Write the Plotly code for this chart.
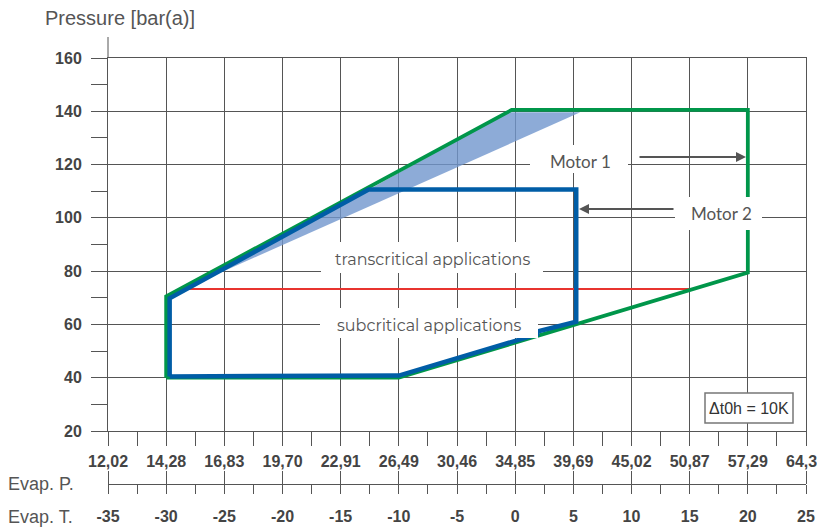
import plotly.graph_objects as go

# ---------------- data ----------------
evap_t = [-35, -30, -25, -20, -15, -10, -5, 0, 5, 10, 15, 20, 25]
evap_p = ["12,02", "14,28", "16,83", "19,70", "22,91", "26,49", "30,46",
          "34,85", "39,69", "45,02", "50,87", "57,29", "64,34"]
y_ticks = [20, 40, 60, 80, 100, 120, 140, 160]

motor1_t = [-30, -30, -0.3, 20, 20, -10, -30]
motor1_p = [40, 70.5, 140.5, 140.5, 79.5, 40, 40]

motor2_t = [-29.7, -29.7, -12.6, 5.25, 5.25, 1.9, 1.9, -10, -29.7]
motor2_p = [40.5, 69.8, 110.6, 110.6, 61.0, 57.3, 56.3, 40.8, 40.5]

band_t = [-25.4, -0.7, 5.6, -25.4]
band_p = [79.3, 139.6, 139.6, 79.3]

crit_t = [-28.6, 15.3]
crit_p = [73.3, 73.3]

# ---------------- style ----------------
# The page body has an 8px margin, so the figure is 8px smaller and the
# plot-area margins are measured from the page origin minus that offset.
PAGE_OFF = 8
W, H = 825 - PAGE_OFF, 527 - PAGE_OFF
PLOT_L, PLOT_R, PLOT_T, PLOT_B = 108, 806, 58, 484   # page pixels
L, T = PLOT_L - PAGE_OFF, PLOT_T - PAGE_OFF
R = W - (PLOT_R - PAGE_OFF)
B = H - (PLOT_B - PAGE_OFF)
PW, PH = PLOT_R - PLOT_L, PLOT_B - PLOT_T
GRID = "#555555"
TXT = "#555555"
TICKTXT = "#444444"
GREEN = "#00964a"
BLUE = "#005da6"
RED = "#e8342f"
FILL = "rgba(112,150,205,0.8)"


def px(xpix):
    return (xpix - PLOT_L) / PW


def py(ypix):
    return (PLOT_B - ypix) / PH


fig = go.Figure()

fig.add_trace(go.Scatter(x=band_t, y=band_p, mode="lines", fill="toself",
                         fillcolor=FILL, line=dict(width=0), hoverinfo="skip"))
fig.add_trace(go.Scatter(x=crit_t, y=crit_p, mode="lines",
                         line=dict(color=RED, width=2)))
fig.add_trace(go.Scatter(x=motor1_t, y=motor1_p, mode="lines",
                         line=dict(color=GREEN, width=3.8)))
fig.add_trace(go.Scatter(x=motor2_t, y=motor2_p, mode="lines",
                         line=dict(color=BLUE, width=4.5)))
# anchor traces for the secondary scales
fig.add_trace(go.Scatter(x=[None], y=[None], xaxis="x2", yaxis="y"))
fig.add_trace(go.Scatter(x=[None], y=[None], xaxis="x3", yaxis="y"))

tickfont = dict(family="Liberation Sans, Arial", size=16, color=TICKTXT, weight="bold")

fig.update_layout(
    width=W, height=H, margin=dict(l=L, r=R, t=T, b=B, autoexpand=False),
    paper_bgcolor="white", plot_bgcolor="white", showlegend=False,
    xaxis=dict(range=[-35, 25], domain=[0, 1], anchor="y", automargin=False,
               tickmode="array", tickvals=evap_t, ticktext=evap_p,
               ticks="outside", ticklen=14, tickwidth=1, tickcolor=GRID,
               showgrid=True, gridcolor=GRID, gridwidth=1,
               showline=True, linecolor=GRID, linewidth=1, mirror=True,
               zeroline=False, tickfont=tickfont, ticklabelstandoff=2,
               ticklabeloverflow="allow",
               minor=dict(tickmode="linear", tick0=-35, dtick=2.5, ticks="outside",
                          ticklen=14, tickwidth=1, tickcolor=GRID, showgrid=False)),
    xaxis2=dict(range=[-35, 25], overlaying="x", anchor="free", position=0,
                side="bottom", automargin=False, tickmode="array", tickvals=evap_t,
                ticktext=[str(v) for v in evap_t],
                ticks="outside", ticklen=9, tickwidth=1, tickcolor=GRID,
                showgrid=False, zeroline=False,
                showline=True, linecolor=GRID, linewidth=1,
                tickfont=tickfont, ticklabelstandoff=9,
                ticklabeloverflow="allow",
                minor=dict(tickmode="linear", tick0=-35, dtick=2.5, ticks="outside",
                           ticklen=9, tickwidth=1, tickcolor=GRID, showgrid=False)),
    xaxis3=dict(range=[-35, 25], overlaying="x", anchor="free", position=0,
                side="top", automargin=False, tickmode="array", tickvals=evap_t,
                ticks="outside", ticklen=13, tickwidth=1, tickcolor=GRID,
                showticklabels=False, showgrid=False, zeroline=False,
                showline=False),
    yaxis=dict(range=[20, 160], domain=[53 / PH, 1], anchor="x", automargin=False,
               tickmode="array", tickvals=y_ticks,
               ticks="outside", ticklen=16, tickwidth=1, tickcolor=GRID,
               showgrid=True, gridcolor=GRID, gridwidth=1,
               showline=True, linecolor=GRID, linewidth=1, mirror=True,
               zeroline=False, tickfont=tickfont, ticklabelstandoff=6,
               minor=dict(tickmode="linear", tick0=20, dtick=10, ticks="outside",
                          ticklen=16, tickwidth=1, tickcolor=GRID, showgrid=False)),
)

shapes = [
    # extension of the pressure axis above 160
    dict(type="line", xref="paper", yref="paper", x0=0, x1=0, y0=py(58), y1=py(37),
         line=dict(color=GRID, width=1)),
]
# white label backgrounds
for (x0, x1, y0, y1) in [(530, 628, 145, 173), (675, 762, 197, 230),
                         (321, 543, 242, 273), (320, 538, 308, 338)]:
    shapes.append(dict(type="rect", xref="paper", yref="paper", layer="above",
                       x0=px(x0), x1=px(x1), y0=py(y1), y1=py(y0),
                       fillcolor="white", line=dict(width=0)))
shapes.append(dict(type="rect", xref="paper", yref="paper", layer="above",
                   x0=px(705), x1=px(793), y0=py(423), y1=py(393),
                   fillcolor="white", line=dict(color="#777777", width=1.5)))
fig.update_layout(shapes=shapes)

labfont = dict(family="Lato, Open Sans", size=17, color=TXT)
appfont = dict(family="Montserrat, Lato, Open Sans", size=16, color=TXT)
annos = [
    dict(text="Pressure [bar(a)]", x=px(43), y=py(18), xanchor="left", yanchor="middle",
         font=dict(family="Liberation Sans, Arial", size=20, color=TXT)),
    dict(text="Evap. P.", x=px(6), y=py(484), xanchor="left", yanchor="middle",
         font=dict(family="Liberation Sans, Arial", size=18, color=TXT)),
    dict(text="Evap. T.", x=px(6), y=py(517), xanchor="left", yanchor="middle",
         font=dict(family="Liberation Sans, Arial", size=18, color=TXT)),
    dict(text="Motor 1", x=px(580), y=py(161), xanchor="center", yanchor="middle", font=labfont),
    dict(text="Motor 2", x=px(721), y=py(214), xanchor="center", yanchor="middle", font=labfont),
    dict(text="transcritical applications", x=px(432), y=py(259), xanchor="center",
         yanchor="middle", font=appfont),
    dict(text="subcritical applications", x=px(429), y=py(325), xanchor="center",
         yanchor="middle", font=appfont),
    dict(text="\u0394t0h = 10K", x=px(749), y=py(408), xanchor="center", yanchor="middle",
         font=dict(family="Liberation Sans, Arial", size=16, color="#333333")),
    # arrows
    dict(text="", x=px(746), y=py(157), ax=638 - 746, ay=0, showarrow=True,
         arrowhead=2, arrowsize=1, arrowwidth=2, arrowcolor=GRID),
    dict(text="", x=px(579), y=py(209), ax=675 - 579, ay=0, showarrow=True,
         arrowhead=2, arrowsize=1, arrowwidth=2, arrowcolor=GRID),
]
for a in annos:
    a.setdefault("showarrow", False)
    a["xref"] = "paper"
    a["yref"] = "paper"
fig.update_layout(annotations=annos)

fig.write_html("out.html")
